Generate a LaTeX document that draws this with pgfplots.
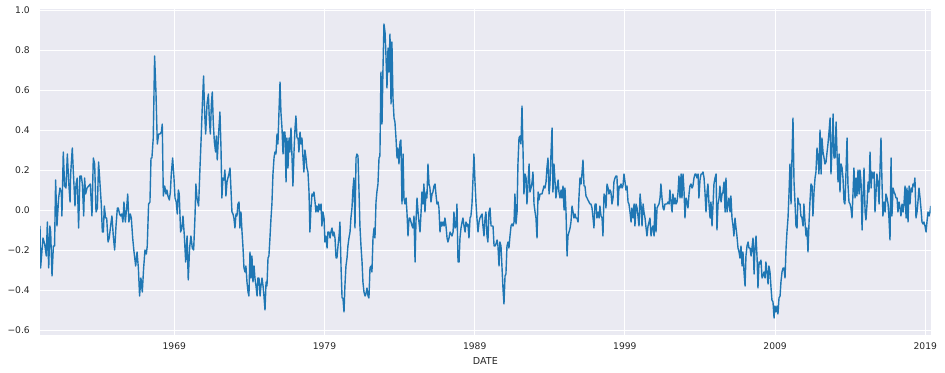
\documentclass[border=0pt]{standalone}
\usepackage{pgfplots}
\pgfplotsset{compat=1.18}
\usepackage{fontspec}
\setmainfont{DejaVu Sans}
\definecolor{sbbg}{HTML}{EAEAF2}
\definecolor{sbtext}{HTML}{262626}
\definecolor{mplblue}{HTML}{1F77B4}
\begin{document}
\begin{tikzpicture}
\useasboundingbox (0,0) rectangle (945bp,373bp);
\begin{axis}[
  at={(40bp,38bp)}, anchor=south west,
  scale only axis, width=890.7bp, height=326bp,
  xmin=1960.06, xmax=2019.36, ymin=-0.625, ymax=1.005,
  axis background/.style={fill=sbbg},
  axis line style={draw=none},
  major tick length=0pt,
  grid=major,
  major grid style={white, line width=0.8bp},
  xtick={1969,1979,1989,1999,2009,2019},
  xticklabels={1969,1979,1989,1999,2009,2019},
  ytick={-0.6,-0.4,-0.2,0,0.2,0.4,0.6,0.8,1.0},
  yticklabels={−0.6,−0.4,−0.2,0.0,0.2,0.4,0.6,0.8,1.0},
  ticklabel style={font=\fontsize{9.2}{10}\selectfont, text=sbtext, inner sep=0pt},
  xticklabel style={anchor=north, yshift=-7.5bp},
  yticklabel style={anchor=east, xshift=-10bp},
  xlabel={DATE},
  xlabel style={at={(axis description cs:0.5,0)}, anchor=north, inner sep=0pt, yshift=-22bp, font=\fontsize{9.6}{11}\selectfont, text=sbtext},
  clip=true,
]
\addplot[mplblue, line width=1.4bp, line join=round, no markers] coordinates {
(1960.06,-0.08)(1960.10,-0.29)(1960.26,-0.14)(1960.37,-0.17)(1960.48,-0.23)(1960.55,-0.06)(1960.64,-0.29)(1960.72,-0.08)(1960.77,-0.11)(1960.86,-0.33)(1960.95,-0.18)(1961.03,-0.18)(1961.10,0.15)(1961.19,-0.08)(1961.30,0.06)(1961.39,0.11)(1961.48,0.09)(1961.52,-0.03)(1961.61,0.29)(1961.70,0.12)(1961.79,0.11)(1961.88,0.28)(1961.97,0.14)(1962.06,0.04)(1962.10,0.18)(1962.21,0.31)(1962.28,0.19)(1962.39,0.02)(1962.46,0.13)(1962.54,0.16)(1962.63,-0.09)(1962.72,0.17)(1962.81,0.17)(1962.88,0.13)(1962.97,-0.03)(1963.03,0.16)(1963.10,0.08)(1963.19,0.11)(1963.30,0.12)(1963.41,0.13)(1963.52,-0.03)(1963.61,0.26)(1963.70,0.23)(1963.79,-0.01)(1963.88,0.01)(1963.96,0.24)(1964.03,0.16)(1964.14,0.03)(1964.21,-0.11)(1964.28,-0.11)(1964.34,0.02)(1964.43,-0.04)(1964.50,-0.04)(1964.59,-0.16)(1964.67,-0.14)(1964.76,-0.08)(1964.85,-0.03)(1964.94,-0.13)(1965.03,-0.20)(1965.12,-0.08)(1965.21,0.01)(1965.27,0.01)(1965.36,-0.02)(1965.43,-0.03)(1965.50,-0.02)(1965.58,-0.06)(1965.65,0.04)(1965.74,-0.06)(1965.83,0.01)(1965.90,0.08)(1965.98,-0.06)
(1966.07,-0.02)(1966.14,-0.04)(1966.23,-0.14)(1966.32,-0.21)(1966.43,-0.28)(1966.52,-0.21)(1966.61,-0.29)(1966.69,-0.43)(1966.78,-0.34)(1966.87,-0.41)(1966.96,-0.29)(1967.05,-0.20)(1967.14,-0.22)(1967.20,-0.18)(1967.29,0.03)(1967.38,0.04)(1967.45,0.26)(1967.51,0.26)(1967.60,0.36)(1967.69,0.77)(1967.78,0.59)(1967.87,0.33)(1967.96,0.38)(1968.05,0.38)(1968.14,0.39)(1968.20,0.43)(1968.27,0.07)(1968.36,0.12)(1968.45,0.08)(1968.51,0.10)(1968.58,0.07)(1968.67,0.05)(1968.74,0.09)(1968.80,0.18)(1968.89,0.26)(1968.98,0.16)(1969.05,0.06)(1969.13,0.04)(1969.20,-0.02)(1969.27,0.10)(1969.33,0.08)(1969.42,-0.11)(1969.51,-0.09)(1969.58,-0.03)(1969.67,-0.13)(1969.76,-0.26)(1969.85,-0.13)(1969.93,-0.35)(1970.02,-0.19)(1970.11,-0.13)(1970.20,-0.19)(1970.29,-0.20)(1970.38,-0.03)(1970.44,0.13)(1970.51,0.06)(1970.62,0.02)(1970.71,0.21)(1970.80,0.38)(1970.87,0.53)(1970.95,0.67)(1971.02,0.49)(1971.09,0.38)(1971.18,0.53)(1971.27,0.58)(1971.33,0.46)(1971.40,0.38)(1971.47,0.53)(1971.53,0.59)(1971.60,0.43)(1971.67,0.34)(1971.75,0.29)(1971.80,0.37)(1971.86,0.25)(1971.95,0.38)
(1972.04,0.49)(1972.11,0.31)(1972.17,0.06)(1972.24,0.16)(1972.31,0.15)(1972.37,0.20)(1972.44,0.07)(1972.51,0.14)(1972.57,0.16)(1972.64,0.18)(1972.71,0.21)(1972.77,0.11)(1972.84,-0.01)(1972.91,-0.02)(1972.97,-0.04)(1973.04,-0.09)(1973.11,-0.02)(1973.17,-0.03)(1973.24,0.03)(1973.31,0.04)(1973.37,-0.09)(1973.44,-0.01)(1973.51,-0.11)(1973.57,-0.18)(1973.64,-0.29)(1973.71,-0.31)(1973.77,-0.28)(1973.84,-0.36)(1973.91,-0.41)(1973.97,-0.43)(1974.04,-0.21)(1974.11,-0.34)(1974.17,-0.23)(1974.24,-0.36)(1974.31,-0.28)(1974.37,-0.34)(1974.44,-0.38)(1974.51,-0.43)(1974.57,-0.34)(1974.64,-0.34)(1974.71,-0.43)(1974.77,-0.38)(1974.84,-0.34)(1974.91,-0.38)(1974.97,-0.43)(1975.04,-0.50)(1975.11,-0.36)(1975.17,-0.38)(1975.24,-0.24)(1975.30,-0.23)(1975.37,-0.14)(1975.44,-0.04)(1975.50,0.03)(1975.57,0.18)(1975.64,0.26)(1975.70,0.29)(1975.77,0.28)(1975.84,0.38)(1975.90,0.33)(1975.97,0.49)(1976.04,0.64)(1976.10,0.49)(1976.17,0.41)(1976.24,0.28)(1976.30,0.39)(1976.37,0.39)(1976.44,0.14)(1976.50,0.36)(1976.57,0.21)(1976.64,0.36)(1976.70,0.29)(1976.77,0.41)(1976.84,0.26)(1976.90,0.12)(1976.97,0.29)(1977.04,0.41)(1977.10,0.47)(1977.17,0.36)(1977.24,0.36)(1977.30,0.29)(1977.37,0.39)(1977.44,0.33)(1977.50,0.36)(1977.57,0.26)(1977.63,0.19)(1977.70,0.30)(1977.77,0.26)(1977.83,0.21)(1977.90,0.19)(1977.97,0.09)(1978.03,-0.11)
(1978.10,0.01)(1978.17,0.08)(1978.23,0.07)(1978.30,0.09)(1978.37,0.04)(1978.43,-0.01)(1978.50,0.02)(1978.57,-0.01)(1978.63,0.03)(1978.70,0.00)(1978.77,0.03)(1978.83,-0.08)(1978.90,-0.01)(1978.97,-0.04)(1979.03,-0.16)(1979.10,-0.13)(1979.17,-0.19)(1979.23,-0.11)(1979.30,-0.11)(1979.37,-0.14)(1979.43,-0.11)(1979.50,-0.09)(1979.57,-0.13)(1979.63,-0.11)(1979.70,-0.14)(1979.77,-0.24)(1979.83,-0.24)(1979.90,-0.18)(1979.97,-0.13)(1980.03,-0.06)(1980.10,-0.28)(1980.17,-0.44)(1980.23,-0.44)(1980.30,-0.51)(1980.36,-0.38)(1980.43,-0.28)(1980.50,-0.24)(1980.56,-0.18)(1980.63,-0.14)(1980.70,-0.11)(1980.76,-0.04)(1980.83,0.01)(1980.90,0.11)(1980.96,0.16)(1981.03,-0.09)(1981.10,0.26)(1981.16,0.28)(1981.23,0.27)(1981.30,0.09)(1981.36,-0.08)(1981.43,-0.18)(1981.50,-0.26)(1981.56,-0.36)(1981.63,-0.41)(1981.70,-0.43)(1981.76,-0.42)(1981.83,-0.39)(1981.90,-0.43)(1981.96,-0.44)(1982.03,-0.29)(1982.10,-0.28)(1982.16,-0.31)(1982.23,-0.14)(1982.30,-0.09)(1982.36,-0.14)(1982.43,0.04)(1982.49,0.09)(1982.56,0.13)(1982.63,0.26)(1982.69,0.27)(1982.76,0.69)(1982.83,0.43)(1982.89,0.69)(1982.96,0.93)(1983.03,0.89)(1983.09,0.78)(1983.16,0.61)(1983.23,0.81)(1983.29,0.69)(1983.36,0.88)(1983.43,0.53)(1983.49,0.84)(1983.56,0.56)(1983.63,0.46)(1983.69,0.44)(1983.76,0.36)(1983.83,0.26)(1983.89,0.31)(1983.96,0.23)(1984.03,0.34)
(1984.09,0.35)(1984.16,0.03)(1984.23,0.28)(1984.29,0.06)(1984.36,0.03)(1984.43,0.06)(1984.49,-0.01)(1984.56,-0.13)(1984.63,-0.04)(1984.69,-0.04)(1984.76,-0.06)(1984.83,-0.08)(1984.89,-0.09)(1984.96,-0.03)(1985.03,-0.26)(1985.09,-0.06)(1985.16,0.06)(1985.23,-0.01)(1985.29,-0.06)(1985.36,-0.11)(1985.43,-0.01)(1985.49,0.09)(1985.56,0.03)(1985.62,0.13)(1985.69,-0.01)(1985.76,0.09)(1985.82,0.06)(1985.89,0.23)(1985.96,0.13)(1986.02,0.11)(1986.09,0.04)(1986.16,0.08)(1986.22,0.09)(1986.29,0.12)(1986.36,0.13)(1986.42,0.08)(1986.49,0.03)(1986.56,0.04)(1986.62,0.01)(1986.69,-0.11)(1986.76,-0.06)(1986.82,-0.08)(1986.89,-0.06)(1986.96,-0.08)(1987.02,-0.04)(1987.09,-0.08)(1987.16,-0.14)(1987.22,-0.16)(1987.29,-0.14)(1987.36,-0.11)(1987.42,-0.12)(1987.49,-0.13)(1987.56,-0.11)(1987.62,-0.01)(1987.69,-0.09)(1987.76,-0.08)(1987.82,0.03)(1987.89,-0.26)(1987.96,-0.26)(1988.02,-0.14)(1988.09,-0.09)(1988.16,-0.06)(1988.22,-0.04)(1988.29,-0.08)(1988.36,-0.11)(1988.42,-0.06)(1988.49,-0.08)(1988.55,-0.07)(1988.62,-0.14)(1988.69,-0.04)(1988.75,-0.03)(1988.82,0.03)(1988.89,0.16)(1988.95,0.28)(1989.02,0.14)(1989.09,0.03)(1989.15,-0.04)(1989.22,-0.11)(1989.29,-0.06)(1989.35,-0.04)(1989.42,-0.03)(1989.49,-0.02)(1989.55,-0.08)(1989.62,-0.13)(1989.69,-0.04)(1989.75,-0.01)(1989.82,-0.13)(1989.88,-0.16)(1989.95,-0.01)(1990.02,0.01)
(1990.09,-0.08)(1990.15,-0.08)(1990.22,-0.08)(1990.29,-0.18)(1990.35,-0.18)(1990.42,-0.17)(1990.49,-0.15)(1990.55,-0.18)(1990.62,-0.28)(1990.68,-0.16)(1990.75,-0.18)(1990.82,-0.29)(1990.89,-0.40)(1990.95,-0.47)(1991.02,-0.33)(1991.08,-0.32)(1991.15,-0.18)(1991.22,-0.16)(1991.28,-0.19)(1991.35,-0.13)(1991.42,-0.08)(1991.48,-0.07)(1991.55,-0.08)(1991.62,-0.06)(1991.68,0.08)(1991.75,-0.07)(1991.82,-0.01)(1991.88,0.23)(1991.95,0.36)(1992.02,0.37)(1992.08,0.33)(1992.15,0.52)(1992.22,0.29)(1992.28,0.08)(1992.35,0.18)(1992.42,0.16)(1992.48,0.03)(1992.55,0.13)(1992.62,0.23)(1992.68,0.09)(1992.75,0.11)(1992.82,0.14)(1992.88,0.19)(1992.95,0.03)(1993.02,-0.01)(1993.08,-0.04)(1993.15,-0.14)(1993.22,0.09)(1993.28,0.05)(1993.35,0.08)(1993.41,0.08)(1993.48,0.08)(1993.55,0.10)(1993.61,0.12)(1993.68,0.11)(1993.75,0.14)(1993.81,0.21)(1993.88,0.26)(1993.95,0.08)(1994.01,0.13)(1994.08,0.28)(1994.15,0.41)(1994.21,0.09)(1994.28,0.23)(1994.35,0.14)(1994.41,0.06)(1994.48,0.11)(1994.55,0.15)(1994.61,0.09)(1994.68,0.06)(1994.75,0.10)(1994.81,0.06)(1994.88,0.12)(1994.95,0.00)(1995.01,0.11)(1995.08,-0.01)(1995.15,-0.23)(1995.21,-0.13)(1995.28,-0.11)(1995.35,-0.09)(1995.41,-0.06)(1995.48,0.02)(1995.55,-0.01)(1995.61,-0.04)(1995.68,-0.02)(1995.74,-0.04)(1995.81,-0.04)(1995.88,-0.06)(1995.94,0.06)(1996.01,0.16)
(1996.08,0.13)(1996.14,0.18)(1996.21,0.25)(1996.28,0.12)(1996.34,0.12)(1996.41,0.07)(1996.48,0.06)(1996.54,0.05)(1996.61,0.04)(1996.68,0.03)(1996.74,0.03)(1996.81,0.01)(1996.88,-0.04)(1996.94,-0.09)(1997.01,0.03)(1997.08,0.03)(1997.14,-0.04)(1997.21,-0.01)(1997.28,-0.04)(1997.34,0.02)(1997.41,-0.03)(1997.48,-0.04)(1997.54,-0.13)(1997.61,0.08)(1997.68,0.07)(1997.74,0.01)(1997.81,0.13)(1997.88,0.11)(1997.94,0.08)(1998.01,0.10)(1998.07,0.09)(1998.14,0.03)(1998.21,0.06)(1998.27,0.14)(1998.34,0.16)(1998.41,0.17)(1998.47,0.17)(1998.54,0.02)(1998.61,0.12)(1998.67,0.11)(1998.74,0.13)(1998.81,0.11)(1998.87,0.12)(1998.94,0.18)(1999.01,0.14)(1999.07,0.10)(1999.14,0.12)(1999.21,0.04)(1999.27,0.03)(1999.34,-0.01)(1999.41,-0.06)(1999.47,0.01)(1999.54,-0.04)(1999.61,0.03)(1999.67,-0.08)(1999.74,0.03)(1999.81,0.01)(1999.87,-0.03)(1999.94,-0.08)(2000.01,0.08)(2000.07,0.03)(2000.14,-0.08)(2000.21,0.03)(2000.27,-0.01)(2000.34,-0.04)(2000.41,-0.09)(2000.47,-0.13)(2000.54,-0.08)(2000.61,-0.06)(2000.67,-0.04)(2000.74,-0.13)(2000.81,-0.09)(2000.87,-0.08)(2000.94,-0.13)(2001.00,0.03)(2001.07,-0.11)(2001.14,0.01)(2001.20,0.02)(2001.27,0.03)(2001.34,0.06)(2001.40,0.13)(2001.47,0.06)(2001.54,0.01)(2001.60,0.00)(2001.67,0.03)(2001.74,0.03)(2001.80,0.03)(2001.87,0.04)(2001.94,0.03)(2002.00,0.10)
(2002.07,0.04)(2002.14,-0.01)(2002.20,0.08)(2002.27,0.03)(2002.34,0.06)(2002.40,0.03)(2002.47,0.04)(2002.54,0.09)(2002.60,0.17)(2002.67,0.06)(2002.74,0.18)(2002.80,0.06)(2002.87,0.18)(2002.94,0.09)(2003.00,-0.04)(2003.07,0.06)(2003.14,0.04)(2003.20,0.01)(2003.27,0.08)(2003.33,0.12)(2003.40,0.13)(2003.47,0.11)(2003.53,0.12)(2003.60,0.16)(2003.67,0.18)(2003.73,0.18)(2003.80,0.16)(2003.87,0.18)(2003.93,0.06)(2004.00,0.15)(2004.07,0.18)(2004.13,0.18)(2004.20,0.19)(2004.27,0.16)(2004.33,0.09)(2004.40,-0.01)(2004.47,0.09)(2004.53,0.13)(2004.60,0.03)(2004.67,-0.04)(2004.73,0.04)(2004.80,-0.08)(2004.87,0.03)(2004.93,0.13)(2005.00,0.16)(2005.07,0.18)(2005.13,-0.10)(2005.20,0.03)(2005.27,0.06)(2005.33,0.12)(2005.40,0.04)(2005.47,0.08)(2005.53,0.09)(2005.60,0.14)(2005.67,-0.01)(2005.73,0.16)(2005.80,-0.01)(2005.87,0.03)(2005.93,0.06)(2006.00,-0.01)(2006.06,0.07)(2006.13,-0.04)(2006.20,-0.08)(2006.26,-0.13)(2006.33,-0.04)(2006.40,-0.09)(2006.46,-0.13)(2006.53,-0.19)(2006.60,-0.21)(2006.66,-0.24)(2006.73,-0.18)(2006.80,-0.28)(2006.86,-0.21)(2006.93,-0.31)(2007.00,-0.38)(2007.06,-0.23)(2007.13,-0.18)(2007.20,-0.16)(2007.26,-0.19)(2007.33,-0.19)(2007.40,-0.23)(2007.46,-0.19)(2007.53,-0.14)(2007.60,-0.32)(2007.66,-0.19)(2007.73,-0.13)(2007.80,-0.24)(2007.86,-0.39)(2007.93,-0.26)(2008.00,-0.27)
(2008.06,-0.25)(2008.13,-0.34)(2008.19,-0.33)(2008.26,-0.31)(2008.33,-0.34)(2008.39,-0.26)(2008.46,-0.31)(2008.53,-0.37)(2008.59,-0.28)(2008.66,-0.31)(2008.73,-0.39)(2008.79,-0.45)(2008.86,-0.46)(2008.93,-0.54)(2008.99,-0.48)(2009.06,-0.51)(2009.13,-0.48)(2009.19,-0.52)(2009.26,-0.44)(2009.33,-0.43)(2009.39,-0.36)(2009.46,-0.31)(2009.53,-0.29)(2009.59,-0.29)(2009.66,-0.34)(2009.73,-0.19)(2009.79,-0.11)(2009.86,-0.04)(2009.93,0.09)(2009.99,0.23)(2010.06,0.03)(2010.13,0.28)(2010.19,0.46)(2010.26,0.14)(2010.33,0.03)(2010.39,-0.08)(2010.46,-0.09)(2010.52,0.06)(2010.59,0.03)(2010.66,0.03)(2010.72,-0.03)(2010.79,-0.04)(2010.86,-0.08)(2010.92,0.03)(2010.99,-0.06)(2011.06,-0.13)(2011.12,-0.09)(2011.19,-0.21)(2011.26,-0.06)(2011.32,0.04)(2011.39,0.13)(2011.46,0.12)(2011.52,-0.03)(2011.59,0.09)(2011.66,0.16)(2011.72,0.19)(2011.79,0.31)(2011.86,0.26)(2011.92,0.18)(2011.99,0.40)(2012.06,0.18)(2012.12,0.36)(2012.19,0.29)(2012.26,0.26)(2012.32,0.23)(2012.39,0.24)(2012.46,0.29)(2012.52,0.33)(2012.59,0.39)(2012.66,0.46)(2012.72,0.18)(2012.79,0.31)(2012.86,0.48)(2012.92,0.26)(2012.99,0.26)(2013.06,0.44)(2013.12,0.29)(2013.19,0.14)(2013.26,0.28)(2013.32,0.09)(2013.39,0.23)(2013.46,0.21)(2013.52,0.16)(2013.59,0.04)(2013.65,0.03)(2013.72,0.19)(2013.79,0.36)(2013.85,0.13)(2013.92,0.04)(2013.99,0.03)
(2014.05,0.01)(2014.12,-0.04)(2014.19,0.09)(2014.25,0.21)(2014.32,0.06)(2014.39,0.16)(2014.45,0.07)(2014.52,0.20)(2014.59,0.08)(2014.65,0.20)(2014.72,0.14)(2014.79,-0.10)(2014.85,0.06)(2014.92,0.21)(2014.99,-0.01)(2015.05,-0.05)(2015.12,0.03)(2015.19,0.14)(2015.25,0.09)(2015.32,0.29)(2015.39,0.11)(2015.45,0.19)(2015.52,0.16)(2015.59,0.19)(2015.65,-0.01)(2015.72,0.09)(2015.78,0.18)(2015.85,0.14)(2015.92,0.03)(2015.98,0.19)(2016.05,0.36)(2016.12,0.13)(2016.18,-0.03)(2016.25,0.04)(2016.32,-0.01)(2016.38,0.08)(2016.45,0.06)(2016.52,0.03)(2016.58,-0.04)(2016.65,-0.15)(2016.72,0.26)(2016.78,-0.03)(2016.85,0.11)(2016.92,0.09)(2016.98,0.08)(2017.05,0.06)(2017.12,0.06)(2017.18,-0.01)(2017.25,0.04)(2017.32,0.01)(2017.38,-0.03)(2017.45,0.03)(2017.52,-0.01)(2017.58,0.03)(2017.65,0.12)(2017.72,-0.04)(2017.78,0.11)(2017.85,-0.06)(2017.92,0.12)(2017.98,0.03)(2018.05,0.11)(2018.12,0.09)(2018.18,0.13)(2018.25,0.12)(2018.31,0.16)(2018.38,-0.04)(2018.45,-0.01)(2018.51,0.04)(2018.58,0.11)(2018.65,0.06)(2018.71,0.01)(2018.78,-0.06)(2018.85,-0.07)(2018.91,-0.06)(2018.98,-0.08)(2019.05,-0.11)(2019.11,-0.06)(2019.18,-0.01)(2019.25,-0.03)(2019.31,-0.01)(2019.36,0.02)
};
\end{axis}
\end{tikzpicture}
\end{document}
